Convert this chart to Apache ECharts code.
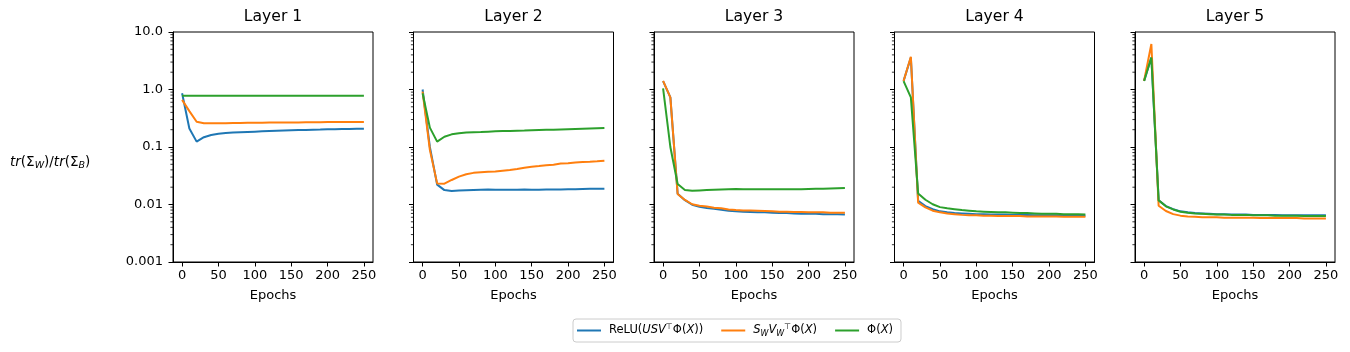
<!DOCTYPE html>
<html><head><meta charset="utf-8">
<script src="https://cdn.jsdelivr.net/npm/echarts@6/dist/echarts.min.js"></script>
<style>html,body{margin:0;padding:0;background:#fff}#c{width:1350px;height:352px}</style>
</head><body><div id="c"></div>
<script>
// ---------- data ----------
const epochs = [0,10,20,30,40,50,60,70,80,90,100,110,120,130,140,150,160,170,180,190,200,210,220,230,240,250];
const layerTitles = ['Layer 1','Layer 2','Layer 3','Layer 4','Layer 5'];
const xTicks = [0,50,100,150,200,250];
const yTickLabels = ['0.001','0.01','0.1','1.0','10.0'];
const yMinorTicks = [0.002,0.003,0.004,0.005,0.006,0.007,0.008,0.009,
                     0.02,0.03,0.04,0.05,0.06,0.07,0.08,0.09,
                     0.2,0.3,0.4,0.5,0.6,0.7,0.8,0.9,
                     2,3,4,5,6,7,8,9];
const seriesNames = ['relu','sv','phi'];

// Layer 1
const relu1 = [0.86,0.21,0.124,0.148,0.162,0.170,0.175,0.178,0.181,0.183,0.185,0.187,0.189,0.191,0.193,0.195,0.197,0.198,0.200,0.201,0.203,0.204,0.205,0.206,0.207,0.208];
const sv1   = [0.66,0.42,0.275,0.258,0.258,0.259,0.260,0.261,0.262,0.263,0.264,0.265,0.266,0.267,0.267,0.268,0.268,0.269,0.270,0.270,0.271,0.271,0.272,0.272,0.272,0.273];
const phi1  = [0.78,0.78,0.78,0.78,0.78,0.78,0.78,0.78,0.78,0.78,0.78,0.78,0.78,0.78,0.78,0.78,0.78,0.78,0.78,0.78,0.78,0.78,0.78,0.78,0.78,0.78];
// Layer 2
const relu2 = [1.0,0.10,0.0222,0.0178,0.0172,0.0175,0.0177,0.0179,0.0181,0.0182,0.0181,0.0181,0.0180,0.0181,0.0182,0.0181,0.0181,0.0182,0.0182,0.0183,0.0184,0.0185,0.0186,0.0187,0.0187,0.0188];
const sv2   = [0.92,0.089,0.0233,0.0230,0.0267,0.0305,0.0335,0.0355,0.0365,0.0372,0.0375,0.0387,0.0398,0.0415,0.0437,0.0455,0.0467,0.0480,0.0493,0.0515,0.0520,0.0535,0.0550,0.0556,0.0565,0.0578];
const phi2  = [0.86,0.217,0.124,0.151,0.166,0.173,0.178,0.180,0.182,0.185,0.187,0.189,0.190,0.192,0.193,0.195,0.197,0.199,0.200,0.202,0.204,0.206,0.208,0.210,0.212,0.214];
// Layer 3
const relu3 = [1.40,0.73,0.0154,0.0119,0.0099,0.0091,0.0087,0.0084,0.0081,0.0078,0.0076,0.0075,0.0074,0.0073,0.0073,0.0072,0.0071,0.0071,0.0070,0.0069,0.0069,0.0069,0.0068,0.0068,0.0068,0.0067];
const sv3   = [1.41,0.73,0.0152,0.0120,0.0101,0.0095,0.0092,0.0088,0.0086,0.0082,0.0080,0.0079,0.0079,0.0078,0.0077,0.0076,0.0075,0.0075,0.0074,0.0074,0.0073,0.0073,0.0073,0.0072,0.0072,0.0072];
const phi3  = [1.05,0.10,0.0227,0.0179,0.0173,0.0176,0.0178,0.0180,0.0182,0.0184,0.0186,0.0185,0.0184,0.0184,0.0185,0.0184,0.0184,0.0184,0.0185,0.0185,0.0186,0.0187,0.0188,0.0190,0.0192,0.0194];
// Layer 4
const relu4 = [1.41,3.6,0.0116,0.0094,0.0083,0.0076,0.0073,0.0071,0.0070,0.0069,0.0068,0.0068,0.0067,0.0067,0.0067,0.0066,0.0066,0.0066,0.0065,0.0065,0.0065,0.0065,0.0064,0.0064,0.0064,0.0064];
const sv4   = [1.41,3.72,0.0108,0.0089,0.0078,0.0073,0.0070,0.0068,0.0066,0.0065,0.0065,0.0064,0.0064,0.0063,0.0063,0.0063,0.0063,0.0062,0.0062,0.0062,0.0062,0.0062,0.0061,0.0061,0.0061,0.0061];
const phi4  = [1.40,0.73,0.0156,0.0121,0.0101,0.0090,0.0086,0.0083,0.0080,0.0078,0.0076,0.0075,0.0074,0.0073,0.0073,0.0072,0.0071,0.0071,0.0070,0.0069,0.0069,0.0069,0.0068,0.0068,0.0068,0.0067];
// Layer 5
const relu5 = [1.41,3.6,0.0119,0.0094,0.0083,0.0076,0.0073,0.0071,0.0070,0.0069,0.0068,0.0068,0.0067,0.0067,0.0067,0.0066,0.0066,0.0066,0.0066,0.0065,0.0065,0.0065,0.0065,0.0065,0.0065,0.0065];
const sv5   = [1.41,6.2,0.0095,0.0077,0.0068,0.0064,0.0062,0.0061,0.0060,0.0060,0.0060,0.0059,0.0059,0.0059,0.0059,0.0059,0.0058,0.0058,0.0058,0.0058,0.0058,0.0058,0.0057,0.0057,0.0057,0.0057];
const phi5  = [1.41,3.6,0.0118,0.0093,0.0082,0.0075,0.0072,0.0070,0.0069,0.0068,0.0067,0.0067,0.0066,0.0066,0.0066,0.0065,0.0065,0.0065,0.0064,0.0064,0.0064,0.0064,0.0063,0.0063,0.0063,0.0063];

const layers = [
  [relu1, sv1, phi1],
  [relu2, sv2, phi2],
  [relu3, sv3, phi3],
  [relu4, sv4, phi4],
  [relu5, sv5, phi5]
];

// ---------- layout / style ----------
const FONT = 'DejaVu Sans';
const COLORS = ['#1f77b4','#ff7f0e','#2ca02c'];
const GRID_LEFT0 = 173, GRID_STEP = 240.5, GRID_W = 200, GRID_TOP = 32, GRID_H = 230;
const X_MIN = -12.5, X_MAX = 262.5;

const grids = [], xAxes = [], yAxes = [], series = [], titles = [];

layers.forEach((layer, i) => {
  const left = GRID_LEFT0 + i * GRID_STEP;
  grids.push({left: left, top: GRID_TOP, width: GRID_W, height: GRID_H,
    show: true, borderColor: '#000', borderWidth: 1, backgroundColor: 'transparent'});
  titles.push({text: layerTitles[i], left: left + GRID_W / 2, top: 9, textAlign: 'center', padding: 0,
    textStyle: {fontFamily: FONT, fontSize: 15.6, fontWeight: 'normal', color: '#000'}});
  xAxes.push({type: 'value', gridIndex: i, min: X_MIN, max: X_MAX,
    name: 'Epochs', nameLocation: 'middle', nameGap: 27,
    nameTextStyle: {fontFamily: FONT, fontSize: 13, color: '#000'},
    axisLine: {show: true, onZero: false, lineStyle: {color: '#000', width: 1}},
    axisTick: {show: true, customValues: xTicks, length: 4.5, lineStyle: {color: '#000', width: 1}},
    axisLabel: {show: true, customValues: xTicks, margin: 7, fontFamily: FONT, fontSize: 13, color: '#000'},
    splitLine: {show: false}});
  yAxes.push({type: 'log', logBase: 10, gridIndex: i, min: 0.001, max: 10,
    axisLine: {show: true, onZero: false, lineStyle: {color: '#000', width: 1}},
    axisTick: {show: true, length: 4.5, lineStyle: {color: '#000', width: 1}},
    axisLabel: {show: i === 0, margin: 10, fontFamily: FONT, fontSize: 13, color: '#000',
      formatter: v => yTickLabels[Math.round(Math.log10(v)) + 3]},
    splitLine: {show: false}, minorTick: {show: false}});
  layer.forEach((vals, k) => {
    series.push({type: 'line', name: seriesNames[k], xAxisIndex: i, yAxisIndex: i,
      data: epochs.map((e, j) => [e, vals[j]]),
      symbol: 'none', showSymbol: false, smooth: false,
      lineStyle: {color: COLORS[k], width: 2}, itemStyle: {color: COLORS[k]},
      emphasis: {disabled: true}, z: 3 + k});
  });
  series.push({type: 'custom', name: 'minor' + i, xAxisIndex: i, yAxisIndex: i, silent: true,
    data: yMinorTicks.map(v => [X_MIN, v]),
    renderItem: function (params, api) {
      const p = api.coord([api.value(0), api.value(1)]);
      return {type: 'line', shape: {x1: p[0] - 2.6, y1: p[1], x2: p[0], y2: p[1]},
        style: {stroke: '#000', lineWidth: 0.8}};
    }, z: 10});
});

titles.push({text: '{i|tr}{n|(Σ}{s|W}{n|)/}{i|tr}{n|(Σ}{s|B}{n|)}', left: 10, top: 153, padding: 0,
  textStyle: {fontWeight: 'normal', fontFamily: FONT, fontSize: 13.5, rich: {
    i: {fontFamily: FONT, fontSize: 13.5, fontStyle: 'italic', fontWeight: 'normal', color: '#000', lineHeight: 18},
    n: {fontFamily: FONT, fontSize: 13.5, fontWeight: 'normal', color: '#000', lineHeight: 18},
    s: {fontFamily: FONT, fontSize: 9.5, fontStyle: 'italic', fontWeight: 'normal', color: '#000', lineHeight: 10, verticalAlign: 'bottom'}
  }}});

const legendLabels = {
  relu: '{n|ReLU(}{i|USV}{p|⊤}{n|Φ(}{i|X}{n|))}',
  sv: '{i|S}{s|W}{i|V}{s|W}{p|⊤}{n|Φ(}{i|X}{n|)}',
  phi: '{n|Φ(}{i|X}{n|)}'
};

const option = {
  animation: false,
  backgroundColor: '#fff',
  title: titles,
  grid: grids,
  xAxis: xAxes,
  yAxis: yAxes,
  legend: {data: seriesNames, left: 573, top: 319, orient: 'horizontal',
    icon: 'rect', itemWidth: 24, itemHeight: 2, itemGap: 18, padding: [4, 8, 4, 4],
    borderColor: '#cccccc', borderWidth: 1, borderRadius: 3, backgroundColor: '#fff',
    selectedMode: false,
    formatter: name => legendLabels[name],
    textStyle: {fontFamily: FONT, fontSize: 11, color: '#000', padding: [0, 0, 0, 3], rich: {
      n: {fontFamily: FONT, fontSize: 11.5, color: '#000', lineHeight: 15},
      i: {fontFamily: FONT, fontSize: 11.5, fontStyle: 'italic', color: '#000', lineHeight: 15},
      s: {fontFamily: FONT, fontSize: 8, fontStyle: 'italic', color: '#000', lineHeight: 8, verticalAlign: 'bottom'},
      p: {fontFamily: FONT, fontSize: 8, color: '#000', lineHeight: 8, verticalAlign: 'top'}
    }}},
  series: series
};

const chart = echarts.init(document.getElementById('c'), null, {renderer: 'canvas'});
chart.setOption(option);
</script>
</body></html>
